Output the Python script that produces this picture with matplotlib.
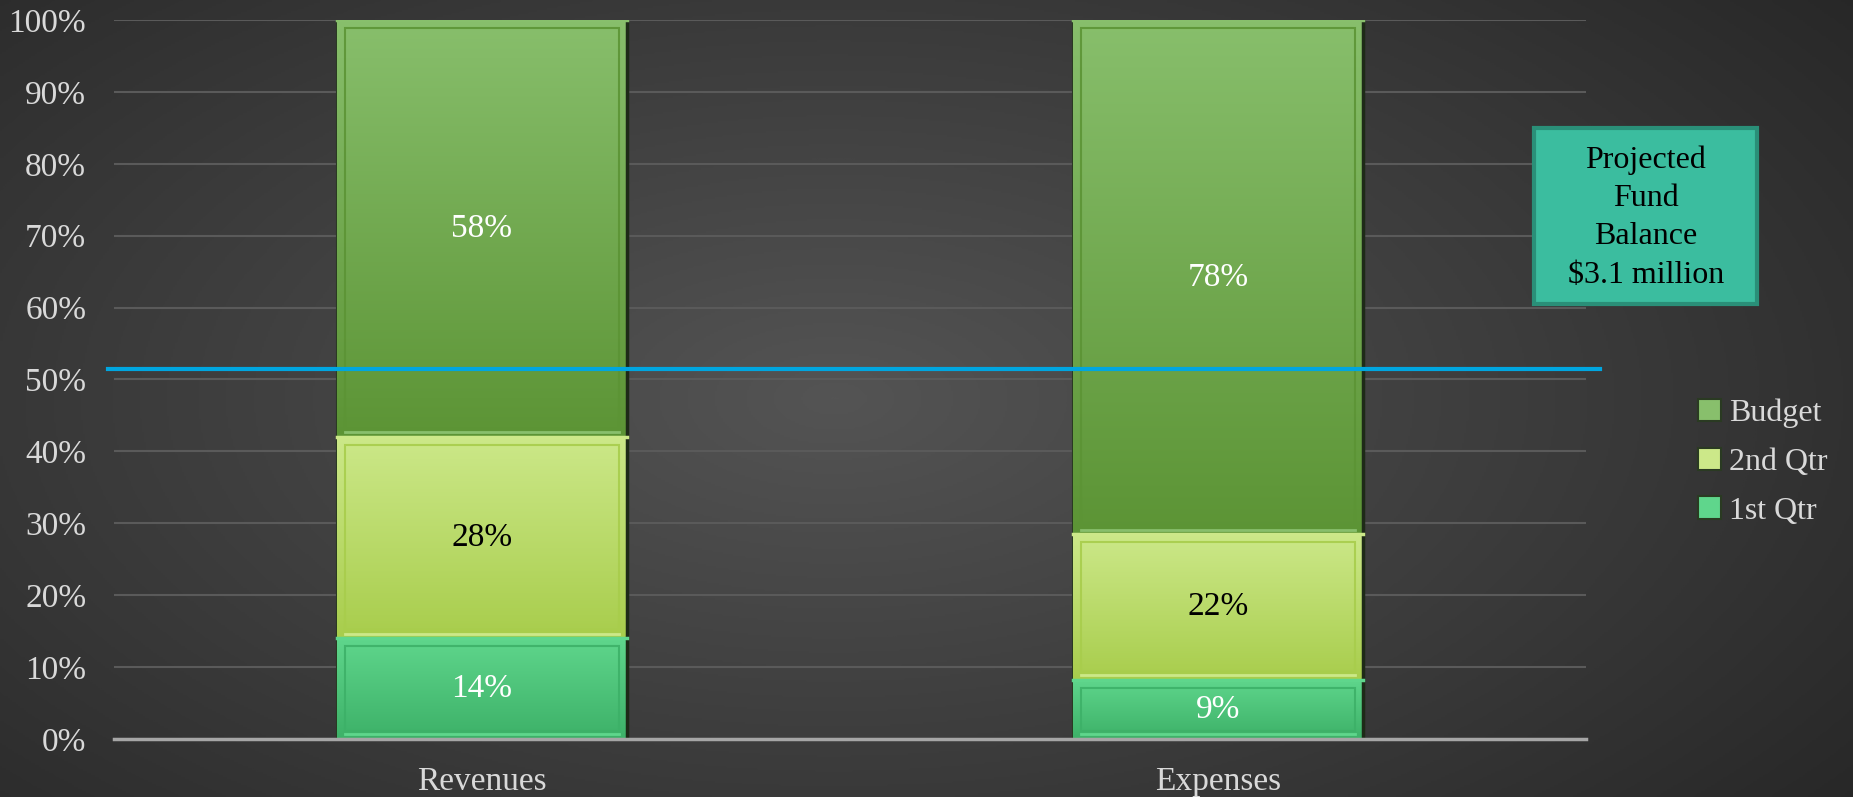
import numpy as np
import matplotlib
matplotlib.use("Agg")
import matplotlib.pyplot as plt
from matplotlib.patches import Rectangle
from matplotlib.colors import LinearSegmentedColormap

# Daten: Anteile je Kategorie (100%-gestapelt)
kategorien = ["Revenues", "Expenses"]
serien = ["1st Qtr", "2nd Qtr", "Budget"]
werte_1st = [14, 9]
werte_2nd = [28, 22]
werte_budget = [58, 78]
ziel_linie = 51.5
box_text = "Projected\nFund\nBalance\n$3.1 million"

# Farben (oben hell, unten dunkel)
farben = {
    "1st Qtr": ("#5fd68c", "#3db168"),
    "2nd Qtr": ("#cce889", "#a8cd4c"),
    "Budget": ("#88bf6c", "#5c9435"),
}
text_farben = {"1st Qtr": "white", "2nd Qtr": "black", "Budget": "white"}

plt.rcParams["font.family"] = ["Liberation Serif", "DejaVu Serif"]

fig = plt.figure(figsize=(18.53, 7.97), dpi=100)

# Hintergrund mit radialem Verlauf
bg = fig.add_axes([0, 0, 1, 1], zorder=-10)
yy, xx = np.mgrid[0:1:400j, 0:1:900j]
dist = np.sqrt(((xx - 0.45) / 0.75) ** 2 + ((yy - 0.5) / 0.9) ** 2)
hell = np.clip(1 - dist, 0, 1)
bg_cmap = LinearSegmentedColormap.from_list("bg", ["#242424", "#545454"])
bg.imshow(hell, cmap=bg_cmap, aspect="auto", extent=(0, 1, 0, 1), vmin=0, vmax=1)
bg.axis("off")

ax = fig.add_axes([0.0615, 0.0728, 0.7944, 0.9021])
ax.set_facecolor("none")

werte = np.array([werte_1st, werte_2nd, werte_budget], dtype=float)
summen = werte.sum(axis=0)
anteile = werte / summen * 100

x = np.arange(len(kategorien))
breite = 0.395
unten = np.zeros(len(kategorien))

for i, name in enumerate(serien):
    oben_f, unten_f = farben[name]
    bars = ax.bar(x, anteile[i], breite, bottom=unten, color=oben_f,
                  edgecolor="#2a3a22", linewidth=1.5, zorder=3, label=name)
    cmap = LinearSegmentedColormap.from_list(name, [unten_f, oben_f])
    grad = np.linspace(0, 1, 256).reshape(-1, 1)
    for j, b in enumerate(bars):
        x0, y0 = b.get_x(), b.get_y()
        w, h = b.get_width(), b.get_height()
        im = ax.imshow(grad, cmap=cmap, origin="lower", aspect="auto",
                       extent=(x0, x0 + w, y0, y0 + h), zorder=3.5)
        im.set_clip_path(b)
        # innerer Rahmen (Relief)
        dx, dy = 0.011, 1.1
        ax.add_patch(Rectangle((x0 + dx, y0 + dy), w - 2 * dx, h - 2 * dy,
                               fill=False, edgecolor=unten_f, linewidth=1.5,
                               alpha=0.9, zorder=4))
        ax.plot([x0 + dx, x0 + w - dx], [y0 + dy * 0.6] * 2,
                color=oben_f, linewidth=2, zorder=4.2)
        ax.plot([x0, x0 + w], [y0 + h] * 2, color=oben_f, linewidth=2.5, zorder=4.2)
        # Schatten rechts
        ax.plot([x0 + w, x0 + w], [y0, y0 + h], color="#1e2a18",
                linewidth=2.5, zorder=4.1)
        ax.text(x0 + w / 2, y0 + h / 2, f"{int(werte[i][j])}%",
                ha="center", va="center", fontsize=24,
                color=text_farben[name], zorder=5)
    unten += anteile[i]

ax.set_xlim(-0.5, 1.5)
ax.set_ylim(0, 100)
ax.set_yticks(np.arange(0, 101, 10))
ax.set_yticklabels([f"{v}%" for v in range(0, 101, 10)])
ax.set_xticks(x)
ax.set_xticklabels(kategorien)
ax.tick_params(axis="both", length=0, colors="#d9d9d9", labelsize=24)
ax.tick_params(axis="y", pad=20)
ax.tick_params(axis="x", pad=20)
ax.grid(axis="y", color="#5a5a5a", linewidth=1.5, zorder=0)
for s in ["top", "right", "left"]:
    ax.spines[s].set_visible(False)
ax.spines["bottom"].set_color("#a6a6a6")
ax.spines["bottom"].set_linewidth(2.5)
ax.spines["bottom"].set_zorder(6)

# Ziellinie
ax.plot([-0.508, 1.519], [ziel_linie, ziel_linie], color="#00a6e0",
        linewidth=3, clip_on=False, zorder=6)

# Legende (Budget oben)
handles, labels = ax.get_legend_handles_labels()
leg = fig.legend(handles[::-1], labels[::-1], loc="center left",
                 bbox_to_anchor=(0.901, 0.42), frameon=False, fontsize=23,
                 labelcolor="#d9d9d9", handlelength=0.7, handleheight=0.7,
                 handletextpad=0.25, labelspacing=0.6)

# Textfeld
fig.patches.append(Rectangle((0.828, 0.6186), 0.1203, 0.2208,
                             transform=fig.transFigure, facecolor="#3bbd9f",
                             edgecolor="#2a8f78", linewidth=3, zorder=7))
fig.text(0.8882, 0.727, box_text, ha="center", va="center", fontsize=23,
         color="black", linespacing=1.42, zorder=8)

fig.savefig("out.png", dpi=100)
